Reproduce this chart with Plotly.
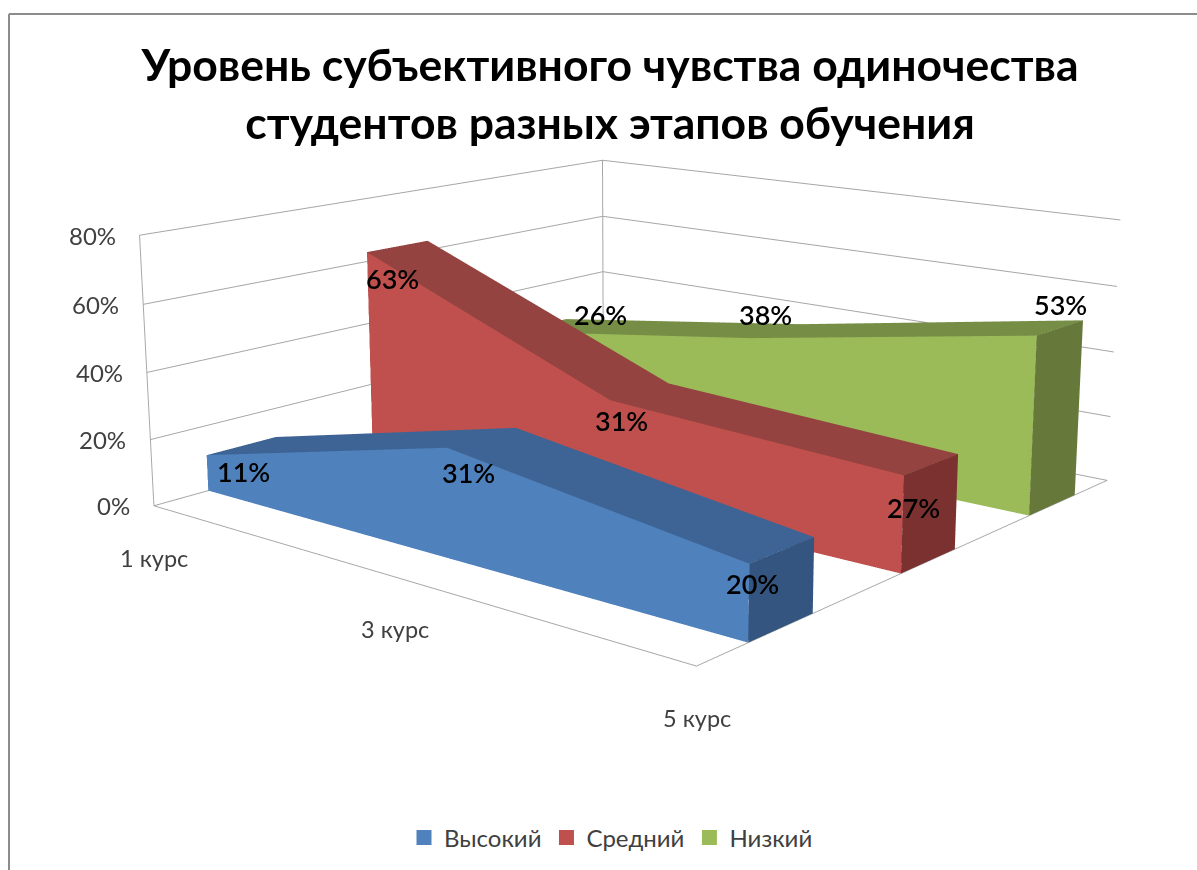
import plotly.graph_objects as go

categories = ["1 курс", "3 курс", "5 курс"]
series_names = ["Высокий", "Средний", "Низкий"]
high = [11, 31, 20]
mid = [63, 31, 27]
low = [26, 38, 53]
value_ticks = [0, 20, 40, 60, 80]
tick_labels = ["0%", "20%", "40%", "60%", "80%"]
front_colors = ["#4F81BD", "#C0504D", "#9BBB59"]
top_colors = ["#3D6494", "#954340", "#758D45"]
side_colors = ["#33557F", "#7A3130", "#67793A"]
label_dx = [[2, -13, -30], [-5, -19, -18], [60, -10, 0]]
label_dy = [[26, 35, 33], [32, 29, 43], [-11, -17, -23]]

series = [high, mid, low]
x_pos = [0.0, 1.0, 2.0]
XR = [0, 2]
YR = [0, 3]
ZR = [0, 80]
W, H, TOP = 1280, 1800, 538


def px(x):
    return (x) / W


def py(y):
    return 1 - (y + TOP) / H


fig = go.Figure()
for s, vals in enumerate(series):
    y0 = s + 0.3
    y1 = s + 0.7
    X, Y, Z, I, J, K, FC = [], [], [], [], [], [], []

    def quad(a, b, c, d, col):
        n = len(X)
        for p in (a, b, c, d):
            X.append(p[0]); Y.append(p[1]); Z.append(p[2])
        I.extend([n, n]); J.extend([n + 1, n + 2]); K.extend([n + 2, n + 3])
        FC.extend([col, col])

    for i in range(2):
        xa, xb = x_pos[i], x_pos[i + 1]
        va, vb = vals[i], vals[i + 1]
        quad((xa, y0, 0), (xb, y0, 0), (xb, y0, vb), (xa, y0, va), front_colors[s])
        quad((xa, y0, va), (xb, y0, vb), (xb, y1, vb), (xa, y1, va), top_colors[s])
    quad((2, y0, 0), (2, y1, 0), (2, y1, vals[2]), (2, y0, vals[2]), side_colors[s])
    fig.add_trace(go.Mesh3d(x=X, y=Y, z=Z, i=I, j=J, k=K, facecolor=FC, flatshading=True,
                            lighting=dict(ambient=1, diffuse=0, specular=0, roughness=1, fresnel=0),
                            hoverinfo="skip", showlegend=False, name=series_names[s]))
    fig.add_trace(go.Scatter3d(x=[None], y=[None], z=[None], mode="markers", name=series_names[s],
                               marker=dict(symbol="square", size=15, color=front_colors[s]),
                               showlegend=True))

fig.add_trace(go.Scatter3d(x=[XR[0], XR[0]], y=[YR[1], YR[1]], z=ZR, mode="lines", showlegend=False,
                           line=dict(color="#A6A6A6", width=2), hoverinfo="skip"))

annotations = []
for s, vals in enumerate(series):
    for i, v in enumerate(vals):
        annotations.append(dict(x=x_pos[i], y=s + 0.5, z=v, text=f"{v}%", showarrow=False,
                                xshift=label_dx[s][i], yshift=-label_dy[s][i],
                                font=dict(family="Lato", size=27, color="#000000", weight=600)))
for i, c in enumerate(categories):
    annotations.append(dict(x=x_pos[i], y=YR[0], z=0, text=c, showarrow=False, yshift=-52,
                            font=dict(family="Lato", size=23.5, color="#404040")))
for t, lab in zip(value_ticks, tick_labels):
    annotations.append(dict(x=XR[0], y=YR[0], z=t, text=lab, showarrow=False, xanchor="right", xshift=-22,
                            font=dict(family="Lato", size=24, color="#404040")))

axis_common = dict(showbackground=False, showticklabels=False, ticks="", title="", showspikes=False,
                   zeroline=False, linecolor="#A6A6A6", showline=True, linewidth=2)
fig.update_layout(
    width=W, height=H, autosize=False, paper_bgcolor="white", margin=dict(l=0, r=0, t=0, b=0),
    title=dict(text="Уровень субъективного чувства одиночества<br>студентов разных этапов обучения",
               x=px(610), xanchor="center", xref="paper", y=py(81), yanchor="top",
               font=dict(family="Lato", size=44.5, color="#000000", weight="bold")),
    legend=dict(orientation="h", x=px(611), xanchor="center", y=py(838), yanchor="middle",
                font=dict(family="Lato", size=24, color="#404040")),
    scene=dict(
        domain=dict(x=[0, 1], y=[0, 1]),
        aspectmode="manual", aspectratio=dict(x=1, y=1, z=0.397),
        xaxis=dict(range=XR, showgrid=False, **axis_common),
        yaxis=dict(range=YR, showgrid=False, **axis_common),
        zaxis=dict(range=ZR, tickvals=value_ticks, showgrid=True, gridcolor="#A6A6A6", gridwidth=2, **axis_common),
        camera=dict(eye=dict(x=1.968, y=-2.373, z=0.72), center=dict(x=0, y=0, z=0), up=dict(x=0, y=0, z=1),
                    projection=dict(type="perspective")),
        annotations=annotations,
    ),
    shapes=[dict(type="line", xref="paper", yref="paper", x0=px(9), x1=1, y0=py(14), y1=py(14), line=dict(color="#8C8C8C", width=2)),
            dict(type="line", xref="paper", yref="paper", x0=px(9), x1=px(9), y0=py(900), y1=py(14), line=dict(color="#8C8C8C", width=2))],
)
post = ("var gd=document.getElementById('{plot_id}');gd.style.position='absolute';gd.style.left='0px';"
        "gd.style.top='-%dpx';document.body.style.overflow='hidden';"
        "document.documentElement.style.overflow='hidden';" % TOP)
fig.write_html("out.html", post_script=post)
